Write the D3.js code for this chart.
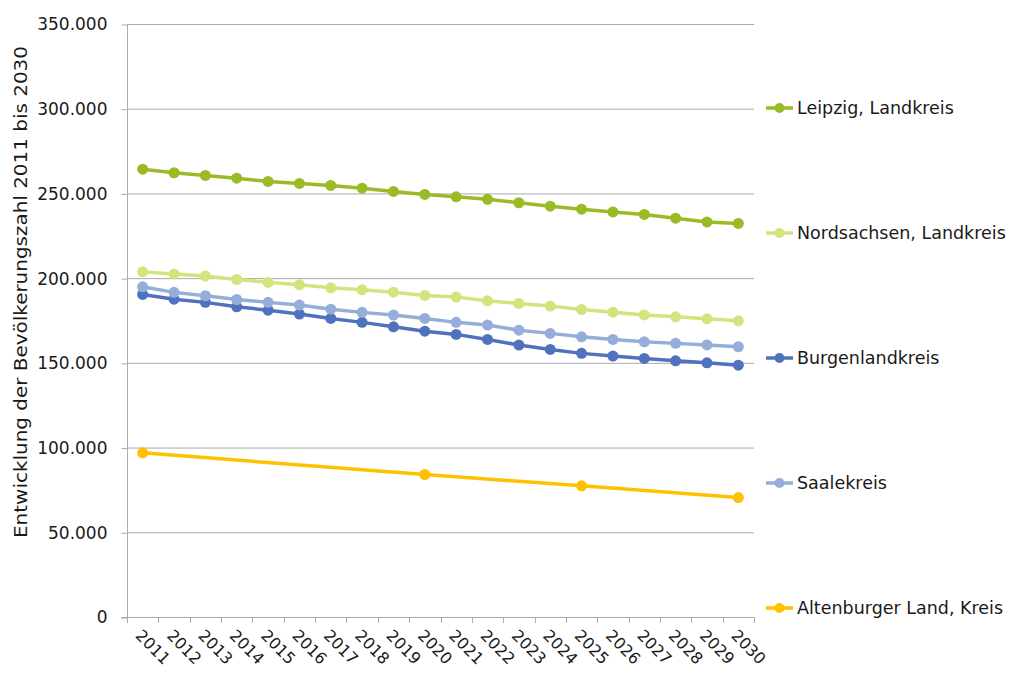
<!DOCTYPE html>
<html>
<head>
<meta charset="utf-8">
<script src="https://cdn.jsdelivr.net/npm/d3@7"></script>
<style>
  body { margin: 0; background: #fff; }
  text { font-family: "DejaVu Sans", sans-serif; fill: #1a1a1a; }
</style>
</head>
<body>
<div id="chart"></div>
<script>
// categories
var years = ["2011","2012","2013","2014","2015","2016","2017","2018","2019","2020",
             "2021","2022","2023","2024","2025","2026","2027","2028","2029","2030"];

// series values
var leipzig = [264300,262200,260600,259000,257100,255900,254700,253100,251200,249400,
               248000,246500,244500,242500,240700,239100,237600,235400,233200,232300];
var nordsachsen = [203700,202400,201200,199200,197500,196100,194300,193100,191700,189800,
                   188800,186600,185100,183500,181500,179900,178300,177200,176000,174800];
var burgenland = [190400,187600,185700,183100,181100,178800,176200,173900,171300,168700,
                  166800,163800,160500,157900,155600,154000,152600,151200,150000,148600];
var saalekreis = [194900,191600,189600,187400,185700,184100,181700,179800,178200,176200,
                  173900,172300,169300,167400,165400,163800,162400,161500,160600,159500];
var altenburg = [96900,null,null,null,null,null,null,null,null,84100,
                 null,null,null,null,77400,null,null,null,null,70500];

var seriesNames = ["Leipzig, Landkreis","Nordsachsen, Landkreis","Burgenlandkreis","Saalekreis","Altenburger Land, Kreis"];
var seriesValues = [leipzig, nordsachsen, burgenland, saalekreis, altenburg];
var seriesColors = ["#9bbb26","#d2e47e","#4f72be","#95aed9","#ffc000"];

// y ticks
var yTicks = [0,50000,100000,150000,200000,250000,300000,350000];

var width = 1011, height = 673;
var plot = {left: 127, right: 754, top: 24, bottom: 617};

var svg = d3.select("#chart").append("svg")
    .attr("width", width)
    .attr("height", height);

var de = d3.formatLocale({decimal: ",", thousands: ".", grouping: [3], currency: ["", " €"]});
var fmt = de.format(",d");

var x = d3.scaleBand().domain(years).range([plot.left, plot.right]);
var y = d3.scaleLinear().domain([0, 350000]).range([plot.bottom, plot.top]);

// gridlines
svg.append("g")
    .selectAll("line").data(yTicks.slice(1)).enter().append("line")
    .attr("x1", plot.left).attr("x2", plot.right)
    .attr("y1", function(d){ return y(d) + 0.5; })
    .attr("y2", function(d){ return y(d) + 0.5; })
    .attr("stroke", "#ababab").attr("stroke-width", 1);

// y axis
var yAxis = d3.axisLeft(y).tickValues(yTicks).tickFormat(fmt).tickSize(6).tickPadding(14);
var gy = svg.append("g")
    .attr("transform", "translate(" + (plot.left + 0.5) + ",0.5)")
    .call(yAxis);
gy.select(".domain").attr("stroke", "#ababab").attr("d", "M0," + plot.top + "V" + plot.bottom);
gy.selectAll(".tick line").attr("stroke", "#ababab");
gy.selectAll(".tick text").style("font-size", "17px").attr("fill", "#1a1a1a");

// x axis: ticks between categories
var xAxis = d3.axisBottom(x).tickSize(0).tickFormat(function(d){ return d; });
var gx = svg.append("g")
    .attr("transform", "translate(0," + (plot.bottom + 0.5) + ")")
    .call(xAxis);
gx.select(".domain").attr("stroke", "#ababab").attr("d", "M" + (plot.left - 6) + ",0H" + plot.right);
gx.selectAll(".tick text")
    .style("font-size", "16px")
    .attr("fill", "#1a1a1a")
    .attr("text-anchor", "start")
    .attr("dy", "0")
    .attr("transform", "translate(-6,17) rotate(45)");

var boundaries = years.map(function(d){ return x(d); }).concat([plot.right]);
svg.append("g").selectAll("line").data(boundaries).enter().append("line")
    .attr("x1", function(d){ return Math.round(d) + 0.5; })
    .attr("x2", function(d){ return Math.round(d) + 0.5; })
    .attr("y1", plot.bottom).attr("y2", plot.bottom + 6)
    .attr("stroke", "#ababab");

// y axis title
svg.append("text")
    .attr("transform", "translate(27," + 292 + ") rotate(-90)")
    .attr("text-anchor", "middle")
    .attr("textLength", 492)
    .attr("lengthAdjust", "spacingAndGlyphs")
    .style("font-size", "17px")
    .text("Entwicklung der Bevölkerungszahl 2011 bis 2030");

// series
var cx = function(i){ return x(years[i]) + x.bandwidth() / 2; };
var line = d3.line()
    .x(function(d){ return cx(d.i); })
    .y(function(d){ return y(d.v); });

seriesValues.forEach(function(vals, s){
    var pts = vals.map(function(v, i){ return {i: i, v: v}; })
        .filter(function(d){ return d.v !== null; });
    var g = svg.append("g");
    g.append("path").datum(pts)
        .attr("d", line)
        .attr("fill", "none")
        .attr("stroke", seriesColors[s])
        .attr("stroke-width", 3.5)
        .attr("stroke-linejoin", "round");
    g.selectAll("circle").data(pts).enter().append("circle")
        .attr("cx", function(d){ return cx(d.i); })
        .attr("cy", function(d){ return y(d.v); })
        .attr("r", 5.5)
        .attr("fill", seriesColors[s]);
});

// legend
var legendY = [108, 233, 358, 483, 608];
var lg = svg.append("g").selectAll("g").data(seriesNames).enter().append("g")
    .attr("transform", function(d, i){ return "translate(766," + legendY[i] + ")"; });
lg.append("line")
    .attr("x1", 0).attr("x2", 27).attr("y1", 0).attr("y2", 0)
    .attr("stroke", function(d, i){ return seriesColors[i]; })
    .attr("stroke-width", 3.5);
lg.append("circle")
    .attr("cx", 13.5).attr("cy", 0).attr("r", 5)
    .attr("fill", function(d, i){ return seriesColors[i]; });
lg.append("text")
    .attr("x", 31).attr("y", 0).attr("dy", "0.35em")
    .style("font-size", "17.5px")
    .text(function(d){ return d; });
</script>
</body>
</html>
